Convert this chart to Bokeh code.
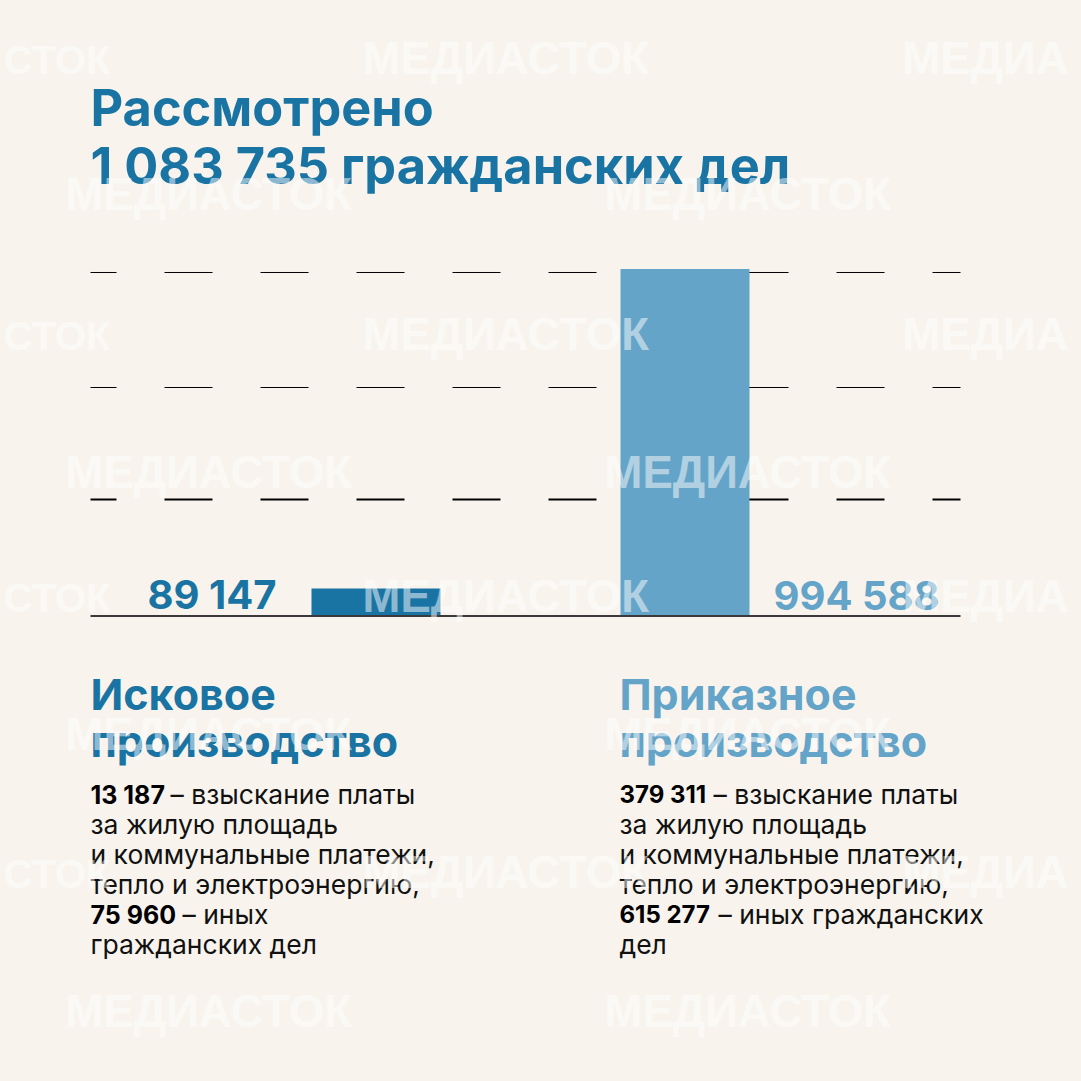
from bokeh.core.properties import value
from bokeh.embed import file_html
from bokeh.models import GlobalInlineStyleSheet, Range1d
from bokeh.plotting import figure
from bokeh.resources import INLINE

# data
categories = ["Исковое производство", "Приказное производство"]
totals = [89147, 994588]
total_labels = ["89 147", "994 588"]
grid_levels = [984600, 658800, 341500]

title_lines = ["Рассмотрено", "1 083 735 гражданских дел"]
headings = [["Исковое", "производство"], ["Приказное", "производство"]]
left_lines = ["за жилую площадь", "и коммунальные платежи,", "тепло и электроэнергию,"]
left_bold = ["13 187", "75 960"]
left_rest = ["– взыскание платы", "– иных"]
left_last = "гражданских дел"
right_bold = ["379 311", "615 277"]
right_rest = ["– взыскание платы", "– иных гражданских"]
right_last = "дел"

BG = "#f8f4ed"
DARK = "#1a74a3"
LIGHT = "#64a4c8"
FONT = value("Inter")
BODY = "26.5px"

# scales: page pixels <-> values, the picture's axis does not start at zero
BASE_VALUE = 11500
PX_PER_VALUE = 0.000353
BASE_PX = 615.5
BAR_STEP = 309
y_start = BASE_VALUE - (1081 - BASE_PX) / PX_PER_VALUE
y_end = BASE_VALUE + BASE_PX / PX_PER_VALUE
x_start = -375.5 / BAR_STEP
x_end = (1081 - 375.5) / BAR_STEP

p = figure(width=1081, height=1081, output_backend="svg", toolbar_location=None,
           x_range=Range1d(x_start, x_end), y_range=Range1d(y_start, y_end),
           x_axis_type=None, y_axis_type=None, min_border=0,
           background_fill_color=BG, border_fill_color=BG)
p.outline_line_color = None
p.grid.visible = False
p.stylesheets = [GlobalInlineStyleSheet(css="html,body{background:%s;margin:0;overflow:hidden;}" % BG)]

# second pair of ranges in page pixels, for text and rules
p.extra_x_ranges["page"] = Range1d(0, 1081)
p.extra_y_ranges["page"] = Range1d(1081, 0)

# dashed grid
p.segment(x0=[90] * 3, x1=[960] * 3, y0=grid_levels, y1=grid_levels, x_range_name="page",
          line_color="#000000", line_width=[1, 1, 2], line_dash="48 48", line_dash_offset=22)

# bars
p.vbar(x=list(range(len(totals))), top=totals, bottom=BASE_VALUE, width=129 / BAR_STEP,
       fill_color=[DARK, LIGHT], line_color=None)

# baseline
p.segment(x0=[90], x1=[960], y0=[BASE_VALUE], y1=[BASE_VALUE], x_range_name="page",
          line_color="#3a3a3a", line_width=2)


def put(x, y, text, size, color, bold=False, align="left", alpha=1.0):
    # the svg text lands about 0.36em under the asked baseline, so lift it
    y = y - 0.36 * float(size[:-2])
    p.text(x=[x], y=[y], text=[text], x_range_name="page", y_range_name="page",
           text_font=FONT if alpha == 1.0 else value("Liberation Sans"),
           text_font_size=value(size), text_color=color, text_alpha=alpha,
           text_font_style="bold" if bold else "normal", text_align=align,
           text_baseline="alphabetic")


put(90, 125, title_lines[0], "50.5px", DARK, True)
put(90, 183, title_lines[1], "50.5px", DARK, True)

put(276, 608, total_labels[0], "40px", DARK, True, "right")
put(773, 609, total_labels[1], "40px", LIGHT, True)

for x, lines, color in zip([90, 619], headings, [DARK, LIGHT]):
    put(x, 709, lines[0], "43px", color, True)
    put(x, 756, lines[1], "43px", color, True)

put(90, 803, left_bold[0], "25px", "#000000", True)
put(170, 803, left_rest[0], BODY, "#111111")
put(90, 923, left_bold[1], "25px", "#000000", True)
put(182, 923, left_rest[1], BODY, "#111111")
put(90, 953, left_last, BODY, "#111111")

put(619, 803, right_bold[0], "24px", "#000000", True)
put(713, 803, right_rest[0], BODY, "#111111")
put(619, 923, right_bold[1], "24px", "#000000", True)
put(718, 923, right_rest[1], BODY, "#111111")
put(619, 953, right_last, BODY, "#111111")

for x in [90, 619]:
    for y, line in zip([833, 863, 893], left_lines):
        put(x, y, line, BODY, "#111111")

# watermark goes over everything, the outer ones only show the part inside the page
for y in [74, 350, 612, 888]:
    put(110, y, "СТОК", "40px", "#ffffff", True, "right", 0.5)
    put(362, y, "МЕДИАСТОК", "45.5px", "#ffffff", True, "left", 0.5)
    put(902, y, "МЕДИА", "45.5px", "#ffffff", True, "left", 0.5)
for y in [210, 488, 750, 1027]:
    for x in [65, 604]:
        put(x, y, "МЕДИАСТОК", "45.5px", "#ffffff", True, "left", 0.5)

open("out.html", "w").write(file_html(p, INLINE))
